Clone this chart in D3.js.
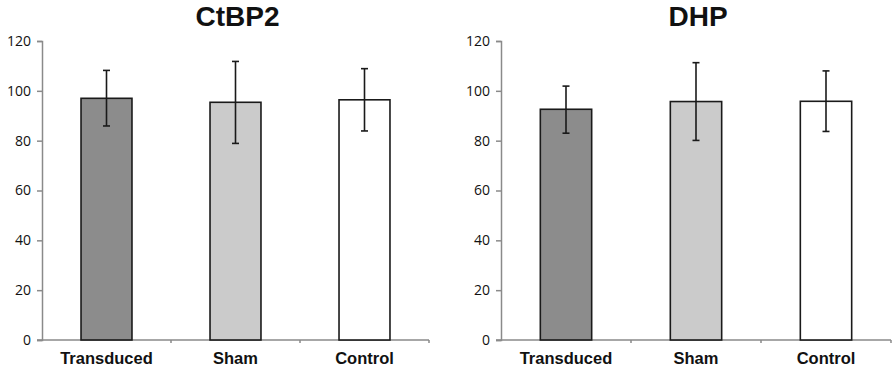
<!DOCTYPE html>
<html><head><meta charset="utf-8">
<script src="https://cdn.jsdelivr.net/npm/d3@7"></script>
<style>body{margin:0;background:#fff}svg{display:block}</style>
</head><body>
<script>
const categories = ["Transduced", "Sham", "Control"];
const yTicks = [0, 20, 40, 60, 80, 100, 120];
const titles = ["CtBP2", "DHP"];
const ctbp2Mean = [97.0, 95.4, 96.4];
const ctbp2Upper = [108.2, 111.8, 108.9];
const ctbp2Lower = [85.9, 78.9, 83.9];
const dhpMean = [92.6, 95.7, 95.8];
const dhpUpper = [101.9, 111.3, 108.0];
const dhpLower = [83.0, 80.1, 83.7];
const fills = ["#8c8c8c", "#cbcbcb", "#ffffff"];

const panels = [
  {title: titles[0], mean: ctbp2Mean, up: ctbp2Upper, lo: ctbp2Lower, x0: 42, x1: 429},
  {title: titles[1], mean: dhpMean, up: dhpUpper, lo: dhpLower, x0: 501, x1: 891}
];

const svg = d3.select("body").append("svg").attr("width", 896).attr("height", 369);
const y = d3.scaleLinear().domain([0, 120]).range([340, 41]);

panels.forEach(p => {
  const g = svg.append("g");
  const x = d3.scaleBand().domain(categories).range([p.x0, p.x1]).paddingInner(0.605).paddingOuter(0.3025);
  const ya = g.append("g").attr("transform", `translate(${p.x0},0)`)
    .call(d3.axisLeft(y).tickValues(yTicks).tickSize(5).tickPadding(6));
  ya.select(".domain").attr("stroke", "#8a8a8a").attr("stroke-width", 1.5);
  ya.selectAll(".tick line").attr("stroke", "#8a8a8a").attr("stroke-width", 1.5);
  ya.selectAll(".tick text").attr("font-family", "'Open Sans', sans-serif").attr("font-size", 14).attr("fill", "#111");

  const step = (p.x1 - p.x0) / categories.length;
  const bounds = d3.range(categories.length + 1).map(i => p.x0 + i * step);
  g.append("line").attr("x1", p.x0 - 5).attr("x2", p.x1).attr("y1", y(0)).attr("y2", y(0))
    .attr("stroke", "#8a8a8a").attr("stroke-width", 1.5);
  g.selectAll(".xt").data(bounds.slice(1)).join("line")
    .attr("x1", d => d).attr("x2", d => d).attr("y1", y(0)).attr("y2", y(0) + 3)
    .attr("stroke", "#8a8a8a").attr("stroke-width", 1.5);

  g.selectAll(".bar").data(categories).join("rect")
    .attr("x", d => x(d)).attr("width", x.bandwidth())
    .attr("y", (d, i) => y(p.mean[i])).attr("height", (d, i) => y(0) - y(p.mean[i]))
    .attr("fill", (d, i) => fills[i]).attr("stroke", "#1a1a1a").attr("stroke-width", 1.6);

  const cx = d => x(d) + x.bandwidth() / 2;
  g.selectAll(".eb").data(categories).join("line")
    .attr("x1", cx).attr("x2", cx)
    .attr("y1", (d, i) => y(p.up[i])).attr("y2", (d, i) => y(p.lo[i]))
    .attr("stroke", "#1a1a1a").attr("stroke-width", 1.6);
  ["up", "lo"].forEach(k => {
    g.selectAll(".cap" + k).data(categories).join("line")
      .attr("x1", d => cx(d) - 3.5).attr("x2", d => cx(d) + 3.5)
      .attr("y1", (d, i) => y(p[k][i])).attr("y2", (d, i) => y(p[k][i]))
      .attr("stroke", "#1a1a1a").attr("stroke-width", 1.6);
  });

  g.selectAll(".cl").data(categories).join("text")
    .attr("x", cx).attr("y", 364).attr("text-anchor", "middle")
    .attr("font-family", "'Liberation Sans', Arial, sans-serif").attr("font-weight", "bold")
    .attr("font-size", 16.5).attr("fill", "#111").text(d => d);

  g.append("text").attr("x", (p.x0 + p.x1) / 2 + 2).attr("y", 25.5).attr("text-anchor", "middle")
    .attr("font-family", "'Liberation Sans', Arial, sans-serif").attr("font-weight", "bold")
    .attr("font-size", 28).attr("fill", "#111").text(p.title);
});
</script>
</body></html>
